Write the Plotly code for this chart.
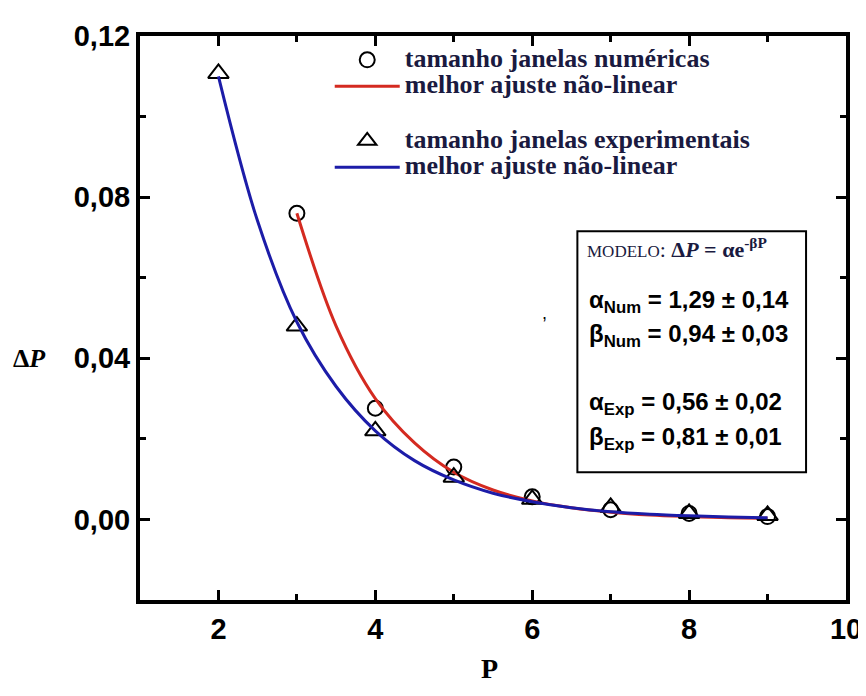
import plotly.graph_objs as go

# pontos
p_num = [3, 4, 5, 6, 7, 8, 9]
dp_num = [0.076, 0.0276, 0.013, 0.0056, 0.0024, 0.0015, 0.0007]
p_exp = [2, 3, 4, 5, 6, 7, 8, 9]
dp_exp = [0.1107, 0.048, 0.022, 0.0105, 0.005, 0.003, 0.0015, 0.001]

# curvas de ajuste
p_fit_num = [3, 3.5, 4, 4.5, 5, 5.5, 6, 6.5, 7, 7.5, 8, 8.5, 9]
dp_fit_num = [0.076, 0.048, 0.030, 0.019, 0.0117, 0.0073, 0.0046, 0.0029, 0.0018, 0.0011, 0.0007, 0.0004, 0.0003]
p_fit_exp = [2, 2.5, 3, 3.5, 4, 4.5, 5, 5.5, 6, 6.5, 7, 7.5, 8, 8.5, 9]
dp_fit_exp = [0.110, 0.074, 0.049, 0.033, 0.022, 0.0146, 0.0098, 0.0065, 0.0044, 0.0029, 0.0019, 0.0013, 0.0009, 0.0006, 0.0004]

legend_names = ["tamanho janelas numéricas", "melhor ajuste não-linear",
                "tamanho janelas experimentais", "melhor ajuste não-linear"]
model_lines = ["α<sub>Num</sub> = 1,29 ± 0,14", "β<sub>Num</sub> = 0,94 ± 0,03",
               "α<sub>Exp</sub> = 0,56 ± 0,02", "β<sub>Exp</sub> = 0,81 ± 0,01"]

W, H = 866, 696
OFF = 8  # margem do body da página
L, R, T, B = 140 - OFF, 847 - OFF, 22 - OFF, 600 - OFF


def px(x):
    return (x - OFF - L) / (R - L)


def py(y):
    return (B - (y - OFF)) / (B - T)


def big(s):
    return "<span style='font-size:26px'>" + s + "</span>"


fig = go.Figure()
fig.add_trace(go.Scatter(x=p_num, y=dp_num, mode="markers", name=big(legend_names[0]),
                         marker=dict(symbol="circle-open", size=15, color="black", line=dict(width=2)),
                         legend="legend"))
fig.add_trace(go.Scatter(x=p_fit_num, y=dp_fit_num, mode="lines", name=big(legend_names[1]),
                         line=dict(color="#d42a20", width=3, shape="spline"),
                         legend="legend"))
fig.add_trace(go.Scatter(x=p_exp, y=dp_exp, mode="markers", name=big(legend_names[2]),
                         marker=dict(symbol="triangle-up-open", size=18, color="black", line=dict(width=2)),
                         legend="legend2"))
fig.add_trace(go.Scatter(x=p_fit_exp, y=dp_fit_exp, mode="lines", name=big(legend_names[3]),
                         line=dict(color="#1c1ca8", width=3, shape="spline"),
                         legend="legend2"))

axis_style = dict(showline=True, linewidth=4, linecolor="black", mirror="ticks",
                  ticks="inside", ticklen=10, tickwidth=3, tickcolor="black",
                  showgrid=False, zeroline=False,
                  tickfont=dict(family="Liberation Sans", size=29, color="black", weight="bold"))
fig.update_xaxes(range=[1, 10], tick0=0, dtick=2,
                 minor=dict(dtick=1, ticks="inside", ticklen=6, tickwidth=3, tickcolor="black"),
                 **axis_style)
fig.update_yaxes(range=[-0.02, 0.12], tick0=0, dtick=0.04, tickformat=".2f",
                 minor=dict(dtick=0.02, ticks="inside", ticklen=6, tickwidth=3, tickcolor="black"),
                 **axis_style)

# caixa do modelo
fig.add_shape(type="rect", xref="paper", yref="paper",
              x0=px(578), x1=px(807), y0=py(469), y1=py(222),
              line=dict(color="black", width=2), fillcolor="white", layer="above")

annotations = [
    dict(x=px(586), y=py(239), text="<span style='font-size:17px'>MODELO</span>: <b>Δ<i>P</i> = αe<sup>-βP</sup></b>",
         font=dict(family="Liberation Serif", size=22, color="#1a1a40")),
    dict(x=px(588), y=py(294), text=model_lines[0]),
    dict(x=px(588), y=py(329), text=model_lines[1]),
    dict(x=px(588), y=py(399), text=model_lines[2]),
    dict(x=px(588), y=py(434), text=model_lines[3]),
]
for a in annotations:
    fig.add_annotation(xref="paper", yref="paper", xanchor="left", yanchor="middle",
                       showarrow=False, text=a["text"], x=a["x"], y=a["y"],
                       font=a.get("font", dict(family="Liberation Sans", size=24, color="black", weight="bold")))

other = [
    dict(x=545, y=306, text=",", font=dict(family="Liberation Sans", size=18, color="black")),
    dict(x=29, y=352, text="<b>Δ<i>P</i></b>", font=dict(family="Liberation Serif", size=26, color="black")),
    dict(x=490, y=670, text="<b>P</b>", font=dict(family="Liberation Serif", size=28, color="black")),
]
for a in other:
    fig.add_annotation(xref="paper", yref="paper", xanchor="center", yanchor="middle",
                       showarrow=False, text=a["text"], x=px(a["x"]), y=py(a["y"]), font=a["font"])

legend_style = dict(xanchor="left", yanchor="middle", itemwidth=65,
                    bgcolor="rgba(0,0,0,0)",
                    font=dict(family="Liberation Serif", size=18, color="#1a1a40", weight="bold"))
fig.update_layout(
    width=W, height=H, separators=",.",
    margin=dict(l=L, r=W - R, t=T, b=H - B),
    plot_bgcolor="white", paper_bgcolor="white",
    showlegend=True,
    legend=dict(x=px(330), y=py(60), **legend_style),
    legend2=dict(x=px(330), y=py(143), **legend_style),
)

fig.write_html("out.html")
